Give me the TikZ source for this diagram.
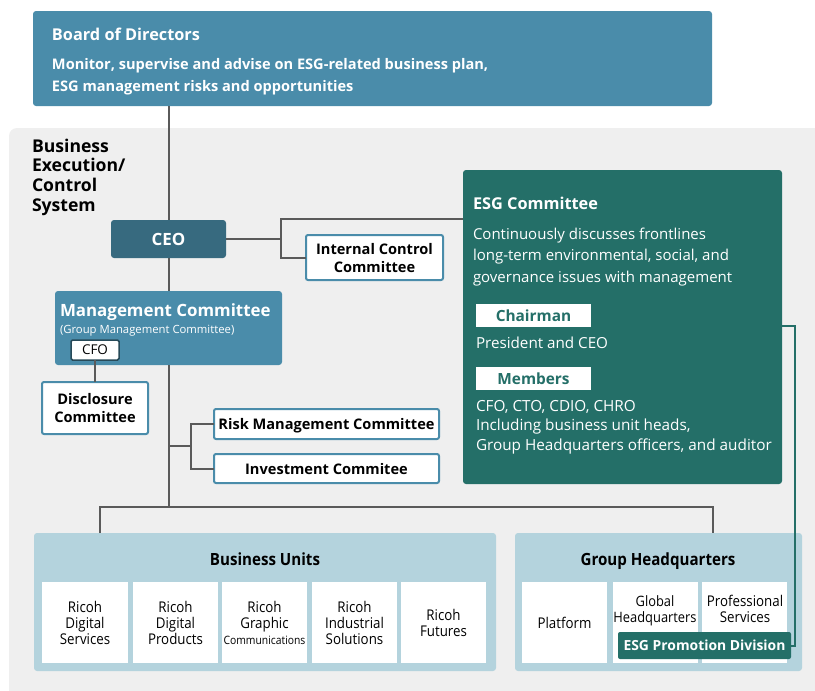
\documentclass[tikz,border=0pt]{standalone}
\usepackage{fontspec}
\usepackage{tikz}
\setmainfont{Open Sans}
\newfontfamily\condfont{Open Sans}[FakeStretch=0.9]
\definecolor{boardblue}{HTML}{4A8CAA}
\definecolor{ceoblue}{HTML}{376A7F}
\definecolor{esggreen}{HTML}{246F68}
\definecolor{unitblue}{HTML}{B4D3DD}
\definecolor{bggray}{HTML}{EFEFEF}
\definecolor{linegray}{HTML}{5A5A5A}

\begin{document}
\begin{tikzpicture}[
  x=1pt, y=-1pt,
  every node/.style={inner sep=0pt, outer sep=0pt},
  panel/.style={anchor=north west, rounded corners=3pt},
  wbox/.style={anchor=north west, draw=boardblue, line width=2pt, fill=white, rounded corners=2pt, align=center, text depth=0pt, font=\bfseries\fontsize{14.6}{18}\selectfont},
  unit/.style={anchor=north west, fill=white, minimum width=85pt, minimum height=81pt, align=center, text depth=0pt, font=\condfont\fontsize{14.8}{16}\selectfont},
  tag/.style={anchor=north west, fill=white, minimum width=115pt, minimum height=23pt, text=esggreen, font=\bfseries\fontsize{15.4}{16}\selectfont},
  wtext/.style={anchor=base west, align=left, text=white},
  conn/.style={draw=linegray, line width=2pt}
]
\useasboundingbox (0,0) rectangle (815,691);
\fill[bggray, rounded corners=8pt] (9,128) rectangle (840,720);

% board
\node[panel, fill=boardblue, minimum width=679pt, minimum height=95pt] (board) at (33,11) {};
\node[wtext, font=\bfseries\fontsize{16.3}{18}\selectfont] (boardtitle) at (52,40) {Board of Directors};
\node[wtext, font=\bfseries\fontsize{14.6}{22}\selectfont] (boardtext) at (52,91) {Monitor, supervise and advise on ESG-related business plan,\\ESG management risks and opportunities};

% execution side
\node[anchor=base west, align=left, font=\bfseries\fontsize{17.6}{19.6}\selectfont] (execsys) at (32,211) {Business\\Execution/\\Control\\System};
\node[panel, fill=ceoblue, minimum width=115pt, minimum height=38pt, text=white, text depth=0pt, font=\bfseries\fontsize{16.9}{18}\selectfont] (ceo) at (111,220) {CEO};
\node[wbox, minimum width=137pt, minimum height=45pt] (ictrl) at (306,235) {Internal Control\\Committee};
\node[panel, fill=boardblue, minimum width=227pt, minimum height=74pt] (mgmt) at (55,291) {};
\node[wtext, font=\bfseries\fontsize{16.9}{18}\selectfont] (mgmttitle) at (60,316) {Management Committee};
\node[wtext, font=\fontsize{11.3}{12}\selectfont] (mgmtsub) at (60,333) {(Group Management Committee)};
\node[anchor=north west, draw=ceoblue!70!black, fill=white, line width=1.5pt, rounded corners=1.5pt, minimum width=48pt, minimum height=20pt, text depth=0pt, font=\fontsize{13.5}{14}\selectfont] (cfo) at (71,340) {CFO};
\node[wbox, minimum width=106pt, minimum height=52pt] (discl) at (42,382) {Disclosure\\Committee};
\node[wbox, minimum width=225pt, minimum height=30pt] (risk) at (214,409) {Risk Management Committee};
\node[wbox, minimum width=225pt, minimum height=29pt] (invest) at (214,454) {Investment Commitee};

% ESG committee
\node[panel, fill=esggreen, minimum width=319pt, minimum height=314pt] (esg) at (463,170) {};
\node[wtext, font=\bfseries\fontsize{16.3}{18}\selectfont] (esgtitle) at (473,209) {ESG Committee};
\node[wtext, font=\fontsize{15}{21.5}\selectfont] (esgtext) at (473,282) {Continuously discusses frontlines\\long-term environmental, social, and\\governance issues with management};
\node[tag] (chair) at (476,304) {Chairman};
\node[wtext, font=\fontsize{15.2}{18}\selectfont] (chairtext) at (476,348) {President and CEO};
\node[tag] (members) at (476,367) {Members};
\node[wtext, font=\fontsize{15.3}{19.5}\selectfont] (membtext) at (476,450) {CFO, CTO, CDIO, CHRO\\Including business unit heads,\\Group Headquarters officers, and auditor};

% business units
\node[panel, fill=unitblue, minimum width=462pt, minimum height=138pt] (bu) at (34,533) {};
\node[anchor=base, font=\condfont\bfseries\fontsize{16.8}{18}\selectfont] (butitle) at (265,565) {Business Units};
\node[unit, minimum width=86pt] (rds) at (42,582) {Ricoh\\Digital\\Services};
\node[unit] (rdp) at (133,582) {Ricoh\\Digital\\Products};
\node[unit] (rgc) at (222,582) {Ricoh\\Graphic\\{\fontsize{11.5}{14}\selectfont Communications}};
\node[unit] (ris) at (312,582) {Ricoh\\Industrial\\Solutions};
\node[unit] (rf) at (401,582) {Ricoh\\Futures};

% group headquarters
\node[panel, fill=unitblue, minimum width=287pt, minimum height=138pt] (ghq) at (515,533) {};
\node[anchor=base, font=\condfont\bfseries\fontsize{16.8}{18}\selectfont] (ghqtitle) at (658,565) {Group Headquarters};
\node[unit] (platform) at (522,582) {Platform};
\node[unit] (globhq) at (613,582) {};
\node[unit] (profsvc) at (702,582) {};
\node[align=center, text depth=0pt, font=\condfont\fontsize{14.3}{16.5}\selectfont] (globtext) at (655,609) {Global\\Headquarters};
\node[align=center, text depth=0pt, font=\condfont\fontsize{14.8}{16.5}\selectfont] (proftext) at (745,609) {Professional\\Services};
\node[anchor=north west, fill=esggreen, rounded corners=2pt, minimum width=173pt, minimum height=27pt, text=white, text depth=0pt, font=\bfseries\fontsize{13.9}{16}\selectfont] (promo) at (618,632) {ESG Promotion Division};

% connectors
\coordinate (cj) at (ceo.east -| 281,0);
\coordinate (rj) at (191,446);
\draw[conn] (board.south -| ceo.north) -- (ceo.north);
\draw[conn] (ceo.south) -- (mgmt.north -| ceo.south);
\draw[conn] (ceo.east) -- (cj);
\draw[conn] (esg.west |- 0,219) -| (ictrl.west -| cj) -- (ictrl.west);
\draw[conn] (cfo.south) -- (discl.north -| cfo.south);
\draw[conn] (mgmt.south -| ceo.south) -- (ceo.south |- 0,507);
\draw[conn] (ceo.south |- rj) -- (rj);
\draw[conn] (risk.west) -| (rj) |- (invest.west);
\draw[conn] (bu.north -| 100,0) -- (100,507) -- (713,507) -- (ghq.north -| 713,0);
\draw[draw=esggreen, line width=2pt] (esg.east |- 0,326) -- (795,326) |- (promo.east);
\end{tikzpicture}
\end{document}
